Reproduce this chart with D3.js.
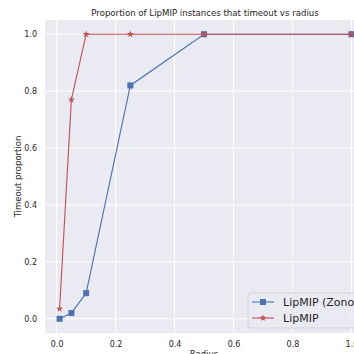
<!DOCTYPE html>
<html>
<head>
<meta charset="utf-8">
<script src="https://cdnjs.cloudflare.com/ajax/libs/d3/7.8.5/d3.min.js"></script>
<style>
  body { margin: 0; background: #fff; }
  text { font-family: "DejaVu Sans", sans-serif; fill: #262626; }
</style>
</head>
<body>
<svg width="354" height="354"></svg>
<script>
var radius = [0.01, 0.05, 0.1, 0.25, 0.5, 1.0];
var zonoTimeout = [0.0, 0.02, 0.09, 0.82, 1.0, 1.0];
var lipmipTimeout = [0.035, 0.77, 1.0, 1.0, 1.0, 1.0];
var xTicks = [0.0, 0.2, 0.4, 0.6, 0.8, 1.0];
var yTicks = [0.0, 0.2, 0.4, 0.6, 0.8, 1.0];
var seriesNames = ["LipMIP (Zono)", "LipMIP"];

var svg = d3.select("svg"),
    margin = {top: 20, right: -12, bottom: 21, left: 45},
    width = +svg.attr("width"),
    height = +svg.attr("height"),
    chartWidth = width - (margin.left + margin.right),
    chartHeight = height - (margin.top + margin.bottom);

var blue = "#4c72b0", red = "#c44e52";

var x = d3.scaleLinear().domain([-0.0395, 1.0495]).range([0, chartWidth]);
var y = d3.scaleLinear().domain([-0.05, 1.05]).range([chartHeight, 0]);

var g = svg.append("g")
    .attr("transform", "translate(" + margin.left + "," + margin.top + ")");

g.append("rect")
    .attr("width", chartWidth)
    .attr("height", chartHeight)
    .attr("fill", "#eaeaf2");

// grid
g.append("g").selectAll("line").data(xTicks).enter().append("line")
    .attr("x1", function(d) { return x(d); })
    .attr("x2", function(d) { return x(d); })
    .attr("y1", 0).attr("y2", chartHeight)
    .attr("stroke", "#fff").attr("stroke-width", 1);
g.append("g").selectAll("line").data(yTicks).enter().append("line")
    .attr("y1", function(d) { return y(d); })
    .attr("y2", function(d) { return y(d); })
    .attr("x1", 0).attr("x2", chartWidth)
    .attr("stroke", "#fff").attr("stroke-width", 1);

// axes
var xAxis = g.append("g")
    .attr("transform", "translate(0," + chartHeight + ")")
    .call(d3.axisBottom(x).tickValues(xTicks).tickFormat(d3.format(".1f")).tickSize(0).tickPadding(8));
var yAxis = g.append("g")
    .call(d3.axisLeft(y).tickValues(yTicks).tickFormat(d3.format(".1f")).tickSize(0).tickPadding(8));
[xAxis, yAxis].forEach(function(a) {
  a.select(".domain").remove();
  a.selectAll("text").attr("font-family", "DejaVu Sans").attr("font-size", "8px").attr("fill", "#262626");
});

svg.append("text")
    .attr("x", margin.left + x(0.5))
    .attr("y", 357)
    .attr("text-anchor", "middle")
    .attr("font-size", "8.5px")
    .text("Radius");

svg.append("text")
    .attr("transform", "translate(21," + (margin.top + chartHeight / 2) + ") rotate(-90)")
    .attr("text-anchor", "middle")
    .attr("font-size", "8.5px")
    .text("Timeout proportion");

svg.append("text")
    .attr("x", 205)
    .attr("y", 16)
    .attr("text-anchor", "middle")
    .attr("font-size", "8.6px")
    .text("Proportion of LipMIP instances that timeout vs radius");

var line = d3.line()
    .x(function(d) { return x(d[0]); })
    .y(function(d) { return y(d[1]); });

var zonoData = d3.zip(radius, zonoTimeout);
var lipData = d3.zip(radius, lipmipTimeout);

var plot = g.append("g");
plot.append("path").datum(zonoData).attr("d", line)
    .attr("fill", "none").attr("stroke", blue).attr("stroke-width", 1.1);
plot.selectAll(".sq").data(zonoData).enter().append("rect")
    .attr("x", function(d) { return x(d[0]) - 3; })
    .attr("y", function(d) { return y(d[1]) - 3; })
    .attr("width", 6).attr("height", 6)
    .attr("fill", blue);

plot.append("path").datum(lipData).attr("d", line)
    .attr("fill", "none").attr("stroke", red).attr("stroke-width", 1.1);
var star = d3.symbol().type(d3.symbolStar).size(16);
plot.selectAll(".st").data(lipData).enter().append("path")
    .attr("d", star)
    .attr("transform", function(d) { return "translate(" + x(d[0]) + "," + y(d[1]) + ")"; })
    .attr("fill", red);

// legend
var lg = svg.append("g").attr("transform", "translate(248,293)");
lg.append("rect")
    .attr("width", 120).attr("height", 35)
    .attr("rx", 3)
    .attr("fill", "#eaeaf2").attr("fill-opacity", 0.8)
    .attr("stroke", "#cccccc").attr("stroke-width", 0.8);
var items = [{name: seriesNames[0], color: blue, m: "sq"}, {name: seriesNames[1], color: red, m: "st"}];
items.forEach(function(it, i) {
  var yy = 9 + i * 16;
  lg.append("line").attr("x1", 4).attr("x2", 26).attr("y1", yy).attr("y2", yy)
      .attr("stroke", it.color).attr("stroke-width", 1.1);
  if (it.m === "sq") {
    lg.append("rect").attr("x", 12).attr("y", yy - 3).attr("width", 6).attr("height", 6).attr("fill", it.color);
  } else {
    lg.append("path").attr("d", star).attr("transform", "translate(15," + yy + ")").attr("fill", it.color);
  }
  lg.append("text").attr("x", 35).attr("y", yy + 4)
      .attr("font-size", "11px").text(it.name);
});
</script>
</body>
</html>
